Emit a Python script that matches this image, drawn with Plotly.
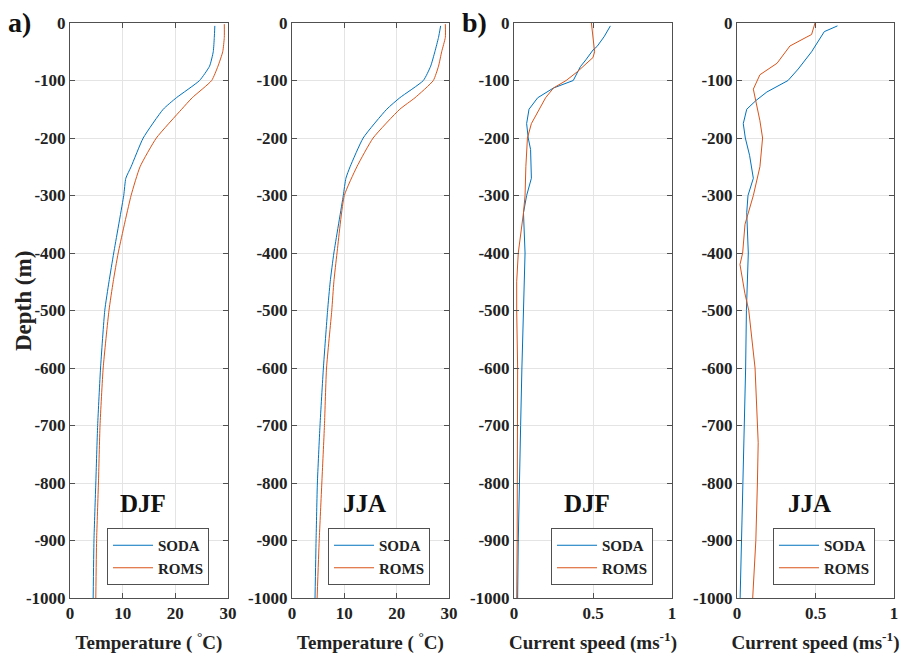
import plotly.graph_objects as go

# ---------------- data ----------------
# Temperature, DJF
djf_t_soda_depth = [-5, -25, -50, -75, -100, -130, -150, -200, -250, -270, -300, -400, -450, -500, -600, -700, -800, -900, -1000]
djf_t_soda = [27.5, 27.4, 27.2, 26.5, 24.6, 20.2, 17.7, 13.9, 11.6, 10.6, 10.2, 8.3, 7.4, 6.6, 5.8, 5.25, 4.9, 4.55, 4.4]
djf_t_roms_depth = [-2, -25, -50, -75, -100, -130, -150, -200, -250, -300, -400, -450, -500, -600, -700, -800, -900, -1000]
djf_t_roms = [29.3, 29.3, 29.0, 28.1, 26.9, 23.2, 21.2, 16.4, 13.3, 11.6, 9.15, 8.2, 7.4, 6.3, 5.7, 5.4, 5.05, 4.9]

# Temperature, JJA
jja_t_soda_depth = [-5, -25, -50, -75, -100, -130, -150, -200, -250, -270, -300, -400, -450, -500, -600, -700, -800, -900, -1000]
jja_t_soda = [28.4, 28.0, 27.3, 26.5, 25.1, 20.6, 18.1, 13.6, 11.1, 10.3, 9.8, 8.0, 7.3, 6.8, 6.0, 5.35, 4.85, 4.6, 4.4]
jja_t_roms_depth = [-2, -25, -50, -75, -100, -130, -150, -200, -250, -300, -400, -450, -500, -600, -700, -800, -900, -1000]
jja_t_roms = [29.3, 29.3, 28.6, 28.0, 27.0, 23.5, 20.6, 15.5, 12.4, 10.0, 8.6, 8.0, 7.6, 6.6, 6.2, 5.7, 5.2, 4.8]

# Current speed, DJF
djf_u_soda_depth = [-5, -24, -41, -47, -64, -76, -100, -113, -130, -150, -175, -200, -220, -270, -300, -330, -400, -500, -600, -700, -800, -900, -1000]
djf_u_soda = [0.61, 0.57, 0.525, 0.50, 0.455, 0.42, 0.375, 0.25, 0.15, 0.095, 0.08, 0.09, 0.105, 0.11, 0.08, 0.06, 0.07, 0.059, 0.05, 0.042, 0.034, 0.027, 0.023]
djf_u_roms_depth = [0, -30, -50, -60, -75, -85, -100, -113, -130, -150, -175, -200, -250, -300, -330, -400, -450, -500, -600, -700, -800, -900, -1000]
djf_u_roms = [0.49, 0.50, 0.51, 0.50, 0.44, 0.40, 0.33, 0.25, 0.20, 0.16, 0.11, 0.085, 0.075, 0.07, 0.06, 0.027, 0.017, 0.017, 0.023, 0.022, 0.022, 0.02, 0.017]

# Current speed, JJA
jja_u_soda_depth = [-5, -15, -50, -80, -100, -120, -135, -150, -175, -200, -230, -270, -300, -330, -400, -500, -600, -700, -800, -900, -1000]
jja_u_soda = [0.64, 0.556, 0.475, 0.39, 0.325, 0.19, 0.12, 0.062, 0.04, 0.053, 0.08, 0.104, 0.07, 0.062, 0.072, 0.06, 0.055, 0.046, 0.034, 0.025, 0.02]
jja_u_roms_depth = [0, -20, -25, -40, -70, -90, -115, -170, -200, -250, -300, -350, -400, -420, -470, -500, -600, -700, -730, -800, -900, -1000]
jja_u_roms = [0.497, 0.475, 0.44, 0.337, 0.255, 0.146, 0.104, 0.146, 0.163, 0.146, 0.104, 0.051, 0.036, 0.019, 0.05, 0.075, 0.115, 0.13, 0.135, 0.13, 0.12, 0.1]

season_labels = ["DJF", "JJA", "DJF", "JJA"]
temp_ticks = [0, 10, 20, 30]
temp_tick_text = ["0", "10", "20", "30"]
speed_ticks = [0, 0.5, 1]
speed_tick_text = ["0", "0.5", "1"]
depth_ticks = [0, -100, -200, -300, -400, -500, -600, -700, -800, -900, -1000]
depth_tick_text = [str(v) for v in depth_ticks]

# ---------------- style ----------------
W, H = 901, 657
FONT = "Liberation Serif"
BLUE = "#0072BD"
ORANGE = "#D95319"
AXC = "#505050"
GRIDC = "#e4e4e4"
TXT = "#222222"

def b(s):
    return f"<b>{s}</b>"

# panel pixel boxes (left, right)
panels_px = [(70, 228), (292, 449), (514, 672), (737, 894)]
top_px, bot_px = 23, 598
ydom = [1 - bot_px / H, 1 - top_px / H]

panels = [
    (djf_t_soda_depth, djf_t_soda, djf_t_roms_depth, djf_t_roms, [0, 30], temp_ticks, temp_tick_text, "Temperature ( <sup>°</sup>C)", "spline"),
    (jja_t_soda_depth, jja_t_soda, jja_t_roms_depth, jja_t_roms, [0, 30], temp_ticks, temp_tick_text, "Temperature ( <sup>°</sup>C)", "spline"),
    (djf_u_soda_depth, djf_u_soda, djf_u_roms_depth, djf_u_roms, [0, 1], speed_ticks, speed_tick_text, "Current speed (ms<sup>-1</sup>)", "linear"),
    (jja_u_soda_depth, jja_u_soda, jja_u_roms_depth, jja_u_roms, [0, 1], speed_ticks, speed_tick_text, "Current speed (ms<sup>-1</sup>)", "linear"),
]

fig = go.Figure()
layout = dict(
    width=W, height=H,
    margin=dict(l=0, r=0, t=0, b=0),
    paper_bgcolor="white", plot_bgcolor="white",
    font=dict(family=FONT, color=TXT, size=16),
    showlegend=True,
)
annotations = []

for i, (sd, sv, rd, rv, xr, xt, xtt, xtitle, shape) in enumerate(panels):
    n = i + 1
    xa = "x" if n == 1 else f"x{n}"
    ya = "y" if n == 1 else f"y{n}"
    leg = "legend" if n == 1 else f"legend{n}"
    lkw = dict(shape=shape, smoothing=0.5) if shape == "spline" else dict(shape=shape)
    fig.add_trace(go.Scatter(x=sv, y=sd, mode="lines", name=b("SODA"),
                             line=dict(color=BLUE, width=1.0, **lkw), xaxis=xa, yaxis=ya, legend=leg))
    fig.add_trace(go.Scatter(x=rv, y=rd, mode="lines", name=b("ROMS"),
                             line=dict(color=ORANGE, width=1.0, **lkw), xaxis=xa, yaxis=ya, legend=leg))
    l, r = panels_px[i]
    xkey = "xaxis" if n == 1 else f"xaxis{n}"
    ykey = "yaxis" if n == 1 else f"yaxis{n}"
    layout[xkey] = dict(
        domain=[l / W, r / W], anchor=ya, range=xr, tickvals=xt,
        ticktext=[b(t) for t in xtt], ticks="inside", ticklen=5, tickcolor=AXC,
        showline=True, linecolor=AXC, linewidth=1, mirror="ticks",
        showgrid=True, gridcolor=GRIDC, zeroline=False,
        tickfont=dict(family=FONT, size=17, color=TXT),
        title=dict(text=b(xtitle), standoff=13,
                   font=dict(family=FONT, size=19, color=TXT)),
        automargin=False, fixedrange=True,
    )
    layout[ykey] = dict(
        domain=ydom, anchor=xa, range=[-1000, 0], tickvals=depth_ticks,
        ticktext=[b(t) for t in depth_tick_text],
        ticks="inside", ticklen=5, tickcolor=AXC,
        showline=True, linecolor=AXC, linewidth=1, mirror="ticks",
        showgrid=True, gridcolor=GRIDC, zeroline=False,
        tickfont=dict(family=FONT, size=17, color=TXT),
        automargin=False, fixedrange=True,
    )
    layout[leg] = dict(
        x=(r - 19) / W, xanchor="right", y=1 - 585 / H, yanchor="bottom",
        bgcolor="white", bordercolor=AXC, borderwidth=1,
        font=dict(family=FONT, size=15, color=TXT),
        tracegroupgap=0, itemwidth=40,
    )
    annotations.append(dict(
        text=b(season_labels[i]), xref=f"{xa} domain", yref=f"{ya} domain",
        x=0.46, y=0.165, xanchor="center", yanchor="middle", showarrow=False,
        font=dict(family=FONT, size=25, color="#111111"),
    ))

# y-axis title as a rotated text
annotations.append(dict(text=b("Depth (m)"), xref="paper", yref="paper", x=23 / W, y=1 - 301 / H,
                        xanchor="center", yanchor="middle", textangle=-90, showarrow=False,
                        font=dict(family=FONT, size=23, color=TXT)))
annotations.append(dict(text=b("a)"), xref="paper", yref="paper", x=6 / W, y=1 - 22 / H,
                        xanchor="left", yanchor="middle", showarrow=False,
                        font=dict(family=FONT, size=28, color="#111111")))
annotations.append(dict(text=b("b)"), xref="paper", yref="paper", x=460 / W, y=1 - 22 / H,
                        xanchor="left", yanchor="middle", showarrow=False,
                        font=dict(family=FONT, size=28, color="#111111")))
layout["annotations"] = annotations
fig.update_layout(**layout)
fig.write_html("out.html", config={"displayModeBar": False},
               post_script="document.body.style.margin='0';document.body.style.padding='0';")
